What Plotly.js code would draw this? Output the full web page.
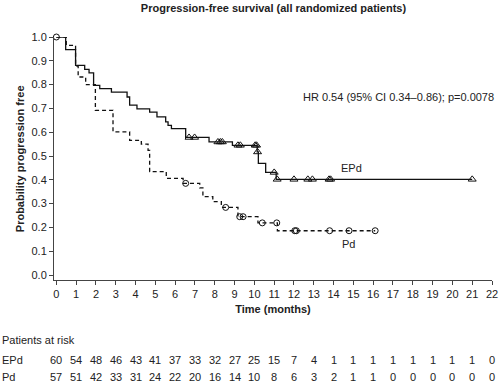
<!DOCTYPE html>
<html>
<head>
<meta charset="utf-8">
<script src="https://cdn.plot.ly/plotly-3.0.1.min.js"></script>
<style>html,body{margin:0;padding:0;background:#fff;}#chart{width:500px;height:386px;}</style>
</head>
<body>
<div id="chart"></div>
<script>
// Kaplan-Meier step data
const epdTimes = [0, 0.47, 0.97, 1.43, 1.65, 1.88, 2.19, 2.78, 3.57, 3.7, 4.07, 4.71, 5.08, 5.52, 5.64, 5.81, 6.53, 7.71, 8.89, 10.14, 10.2, 10.57, 11.1, 21.0];
const epdSurv  = [1.0, 0.947, 0.881, 0.864, 0.849, 0.797, 0.783, 0.768, 0.748, 0.714, 0.698, 0.684, 0.664, 0.643, 0.629, 0.615, 0.578, 0.559, 0.545, 0.517, 0.469, 0.431, 0.402, 0.402];
const epdCensor = [6.7, 6.98, 8.16, 8.28, 8.38, 9.17, 9.29, 10.04, 10.11, 10.16, 11.0, 11.15, 12.0, 12.7, 12.93, 13.77, 13.85, 21.0];

const pdTimes = [0, 0.5, 0.97, 1.1, 1.48, 1.97, 2.86, 3.7, 4.29, 4.63, 4.71, 5.55, 6.4, 7.24, 7.4, 7.9, 8.33, 9.17, 10.18, 11.16, 16.1];
const pdSurv  = [1.0, 0.965, 0.878, 0.832, 0.80, 0.692, 0.601, 0.566, 0.55, 0.524, 0.434, 0.406, 0.385, 0.366, 0.329, 0.308, 0.284, 0.245, 0.219, 0.186, 0.186];
const pdCensor = [0, 6.53, 8.55, 9.26, 9.43, 10.4, 11.13, 12.04, 12.12, 13.8, 14.78, 16.1];

const riskTimes = [0,1,2,3,4,5,6,7,8,9,10,11,12,13,14,15,16,17,18,19,20,21,22];
const epdRisk = [60,54,48,46,43,41,37,33,32,27,25,15,7,4,1,1,1,1,1,1,1,1,0];
const pdRisk  = [57,51,42,33,31,24,22,20,16,14,10,8,6,3,2,1,1,0,0,0,0,0,0];

const xTicks = [0,1,2,3,4,5,6,7,8,9,10,11,12,13,14,15,16,17,18,19,20,21,22];
const yTicks = [0,0.1,0.2,0.3,0.4,0.5,0.6,0.7,0.8,0.9,1.0];

function levelAt(t, times, surv) {
  let s = surv[0];
  for (let i = 0; i < times.length; i++) { if (times[i] <= t) s = surv[i]; }
  return s;
}

const FONT = 'Liberation Sans, Arial, sans-serif';
const TXT = '#222';

const traces = [
  {x: epdTimes, y: epdSurv, mode: 'lines', line: {shape: 'hv', color: '#111', width: 1.3}, hoverinfo: 'skip'},
  {x: pdTimes, y: pdSurv, mode: 'lines', line: {shape: 'hv', color: '#111', width: 1.3, dash: '4px,3px'}, hoverinfo: 'skip'},
  {x: epdCensor, y: epdCensor.map(t => levelAt(t, epdTimes, epdSurv)), mode: 'markers', cliponaxis: false,
   marker: {symbol: 'triangle-up-open', size: 7, color: '#111', line: {width: 1}}},
  {x: pdCensor, y: pdCensor.map(t => levelAt(t, pdTimes, pdSurv)), mode: 'markers', cliponaxis: false,
   marker: {symbol: 'circle-open', size: 6, color: '#111', line: {width: 1}}}
];

// plot area: left 54.3px, right 492.3px, top 36.7px, bottom 280px
const plotTop = 36.7, plotBottom = 280, plotH = plotBottom - plotTop;
const pyToPaper = py => (plotBottom - py) / plotH;

const annotations = [
  {text: 'HR 0.54 (95% CI 0.34–0.86); p=0.0078', xref: 'x', yref: 'paper', x: 12.35, y: pyToPaper(96.7), xanchor: 'left', yanchor: 'middle', showarrow: false, font: {family: FONT, size: 11, color: TXT}},
  {text: 'EPd', xref: 'x', yref: 'paper', x: 14.9, y: pyToPaper(168), xanchor: 'center', yanchor: 'middle', showarrow: false, font: {family: FONT, size: 11, color: TXT}},
  {text: 'Pd', xref: 'x', yref: 'paper', x: 14.73, y: pyToPaper(243.5), xanchor: 'center', yanchor: 'middle', showarrow: false, font: {family: FONT, size: 11, color: TXT}},
  {text: '<b>Probability progression free</b>', xref: 'paper', yref: 'paper', x: (20 - 54.3) / 438, y: 0.5, xanchor: 'center', yanchor: 'middle', textangle: -90, showarrow: false, font: {family: FONT, size: 11, color: TXT}},
  {text: 'Patients at risk', xref: 'paper', yref: 'paper', x: -54.3 / 438, y: pyToPaper(340), xanchor: 'left', yanchor: 'middle', showarrow: false, font: {family: FONT, size: 11, color: TXT}},
  {text: 'EPd', xref: 'paper', yref: 'paper', x: -54.3 / 438, y: pyToPaper(360), xanchor: 'left', yanchor: 'middle', showarrow: false, font: {family: FONT, size: 11, color: TXT}},
  {text: 'Pd', xref: 'paper', yref: 'paper', x: -54.3 / 438, y: pyToPaper(377.5), xanchor: 'left', yanchor: 'middle', showarrow: false, font: {family: FONT, size: 11, color: TXT}}
];
riskTimes.forEach((t, i) => {
  annotations.push({text: String(epdRisk[i]), xref: 'x', yref: 'paper', x: t, y: pyToPaper(360), xanchor: 'center', yanchor: 'middle', showarrow: false, font: {family: FONT, size: 11, color: TXT}});
  annotations.push({text: String(pdRisk[i]), xref: 'x', yref: 'paper', x: t, y: pyToPaper(377.5), xanchor: 'center', yanchor: 'middle', showarrow: false, font: {family: FONT, size: 11, color: TXT}});
});

const layout = {
  width: 500, height: 386,
  margin: {l: 54.3, r: 7.7, t: plotTop, b: 386 - plotBottom},
  paper_bgcolor: '#fff', plot_bgcolor: '#fff',
  showlegend: false,
  title: {text: '<b>Progression-free survival (all randomized patients)</b>', x: (273.5) / 500, xanchor: 'center', y: 1 - 8 / 386, yanchor: 'middle', font: {family: FONT, size: 11, color: TXT}},
  xaxis: {
    range: [-0.12, 22], tickvals: xTicks, ticktext: xTicks.map(String),
    showgrid: false, zeroline: false, showline: true, linecolor: '#444', linewidth: 1,
    ticks: 'outside', ticklen: 4, tickcolor: '#444', tickfont: {family: FONT, size: 11, color: TXT},
    title: {text: '<b>Time (months)</b>', font: {family: FONT, size: 11, color: TXT}, standoff: 6}
  },
  yaxis: {
    range: [-0.021, 1.0], tickvals: yTicks, tickformat: '.1f',
    showgrid: false, zeroline: false, showline: true, linecolor: '#444', linewidth: 1,
    ticks: 'outside', ticklen: 4, tickcolor: '#444', tickfont: {family: FONT, size: 11, color: TXT}
  },
  annotations: annotations
};

Plotly.newPlot('chart', traces, layout, {staticPlot: true, displayModeBar: false});
</script>
</body>
</html>
